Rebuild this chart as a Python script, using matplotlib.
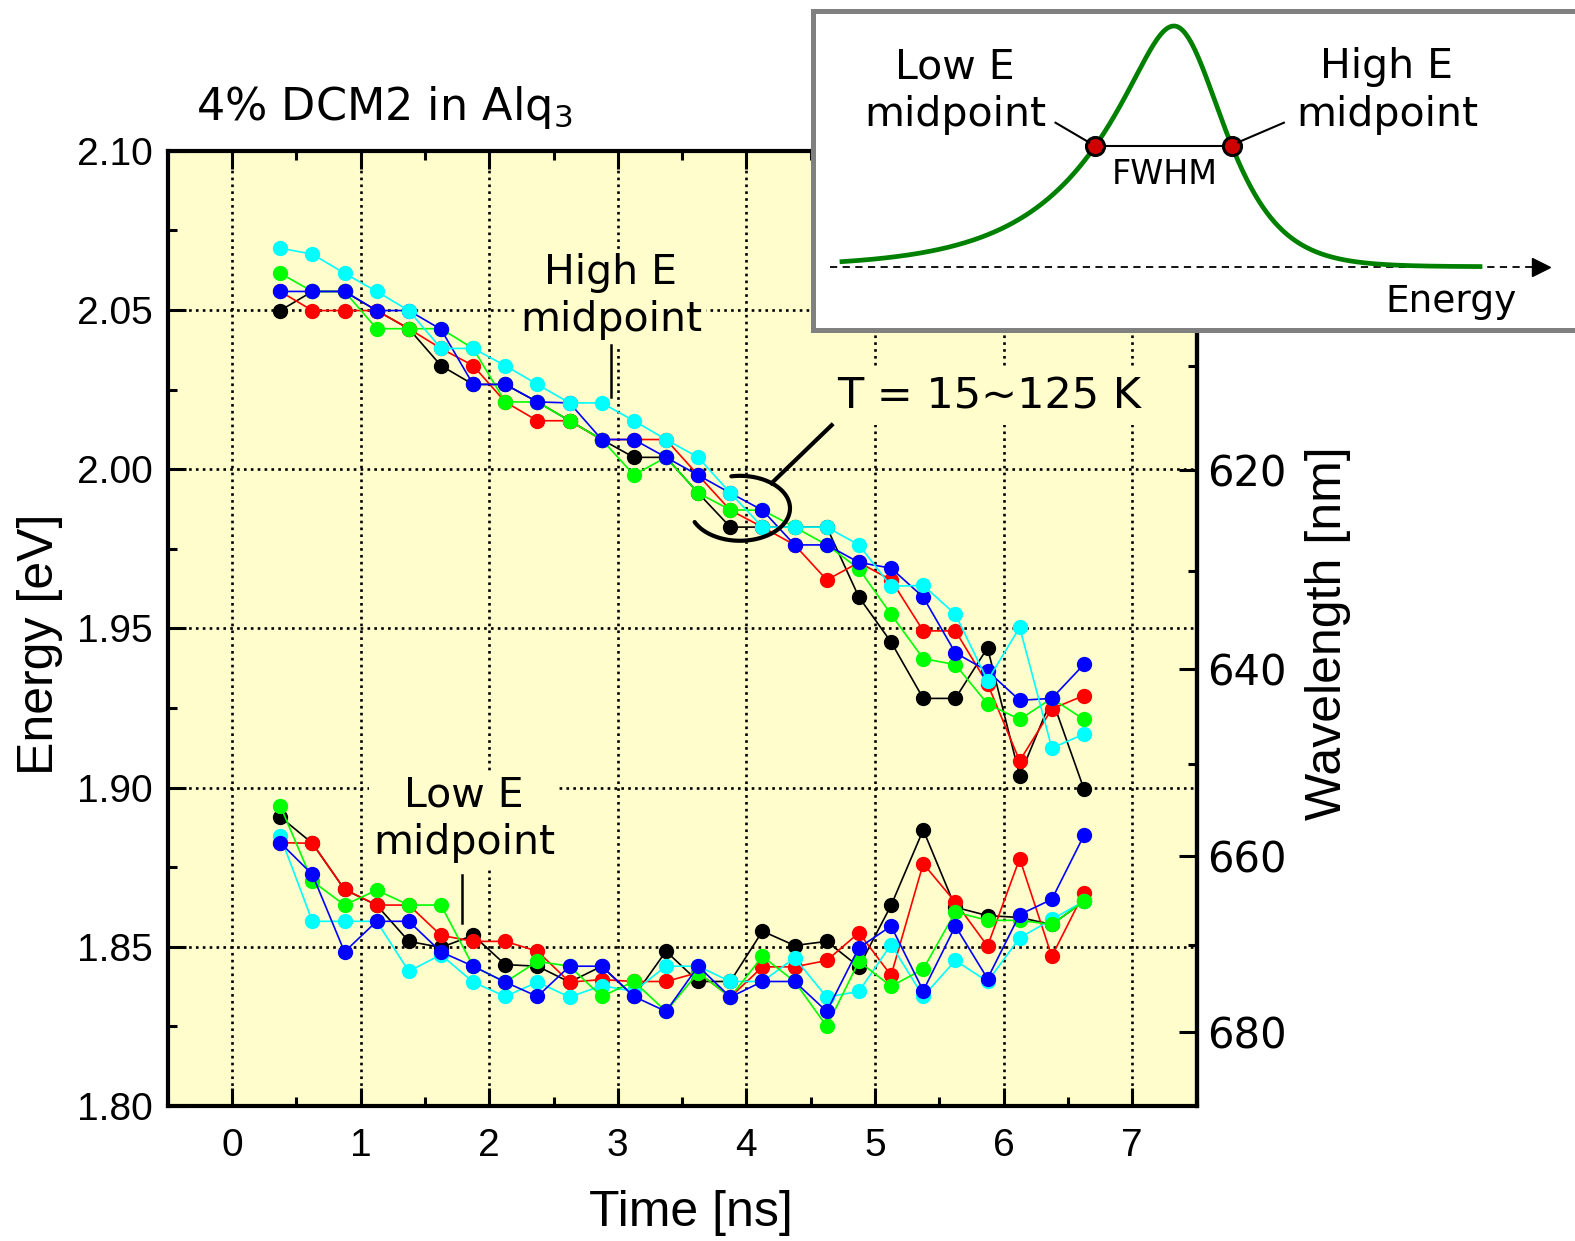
import numpy as np
import matplotlib
matplotlib.use('Agg')
import matplotlib.pyplot as plt
from matplotlib.ticker import MultipleLocator, FixedLocator, FormatStrFormatter

plt.rcParams['font.family'] = ['Liberation Sans', 'DejaVu Sans']
plt.rcParams['mathtext.fontset'] = 'dejavusans'

# time axis of the streak-camera slices [ns]
time_ns = [0.375, 0.625, 0.875, 1.125, 1.375, 1.625, 1.875, 2.125, 2.375,
           2.625, 2.875, 3.125, 3.375, 3.625, 3.875, 4.125, 4.375, 4.625,
           4.875, 5.125, 5.375, 5.625, 5.875, 6.125, 6.375, 6.625]

# high energy half-maximum points [eV]
black_hi = [2.0498, 2.0558, 2.0558, 2.0498, 2.0441, 2.0325, 2.0266, 2.0266, 2.0211,
            2.0152, 2.0093, 2.0037, 2.0037, 1.9925, 1.9818, 1.9818, 1.9818, 1.9818,
            1.9598, 1.9457, 1.9280, 1.9280, 1.9439, 1.9037, 1.9280, 1.8995]
red_hi = [2.0558, 2.0498, 2.0498, 2.0498, 2.0441, 2.0379, 2.0325, 2.0211, 2.0152,
          2.0152, 2.0093, 2.0093, 2.0093, 1.9981, 1.9871, 1.9818, 1.9762, 1.9652,
          1.9707, 1.9652, 1.9492, 1.9492, 1.9326, 1.9084, 1.9247, 1.9289]
green_hi = [2.0615, 2.0558, 2.0558, 2.0441, 2.0441, 2.0441, 2.0379, 2.0211, 2.0211,
            2.0152, 2.0093, 1.9982, 2.0037, 1.9925, 1.9872, 1.9871, 1.9818, 1.9762,
            1.9687, 1.9544, 1.9405, 1.9386, 1.9263, 1.9214, 1.9280, 1.9214]
blue_hi = [2.0558, 2.0558, 2.0558, 2.0498, 2.0498, 2.0439, 2.0266, 2.0266, 2.0211,
           2.0208, 2.0093, 2.0093, 2.0037, 1.9981, 1.9925, 1.9871, 1.9762, 1.9762,
           1.9707, 1.9689, 1.9598, 1.9423, 1.9366, 1.9274, 1.9280, 1.9387]
cyan_hi = [2.0694, 2.0675, 2.0615, 2.0558, 2.0498, 2.0379, 2.0379, 2.0325, 2.0266,
           2.0208, 2.0208, 2.0152, 2.0093, 2.0037, 1.9925, 1.9818, 1.9818, 1.9818,
           1.9762, 1.9632, 1.9635, 1.9544, 1.9336, 1.9503, 1.9124, 1.9168]

# low energy half-maximum points [eV]
black_lo = [1.8908, 1.8825, 1.8680, 1.8631, 1.8517, 1.8498, 1.8536, 1.8444, 1.8439,
            1.8389, 1.8439, 1.8344, 1.8486, 1.8391, 1.8391, 1.8549, 1.8504, 1.8517,
            1.8437, 1.8630, 1.8867, 1.8624, 1.8598, 1.8592, 1.8570, 1.8643]
red_lo = [1.8827, 1.8825, 1.8680, 1.8631, 1.8631, 1.8536, 1.8517, 1.8517, 1.8486,
          1.8389, 1.8397, 1.8391, 1.8391, 1.8419, 1.8342, 1.8437, 1.8437, 1.8457,
          1.8544, 1.8410, 1.8761, 1.8640, 1.8502, 1.8777, 1.8470, 1.8670]
green_lo = [1.8943, 1.8706, 1.8631, 1.8678, 1.8631, 1.8631, 1.8439, 1.8389, 1.8454,
            1.8439, 1.8344, 1.8391, 1.8297, 1.8419, 1.8342, 1.8470, 1.8391, 1.8250,
            1.8454, 1.8376, 1.8430, 1.8609, 1.8583, 1.8583, 1.8570, 1.8643]
blue_lo = [1.8827, 1.8727, 1.8484, 1.8580, 1.8580, 1.8484, 1.8439, 1.8389, 1.8344,
           1.8439, 1.8439, 1.8344, 1.8297, 1.8439, 1.8342, 1.8391, 1.8391, 1.8297,
           1.8497, 1.8565, 1.8362, 1.8565, 1.8400, 1.8601, 1.8649, 1.8850]
cyan_lo = [1.8848, 1.8580, 1.8580, 1.8580, 1.8423, 1.8475, 1.8389, 1.8344, 1.8389,
           1.8342, 1.8378, 1.8360, 1.8439, 1.8439, 1.8391, 1.8391, 1.8465, 1.8342,
           1.8360, 1.8507, 1.8344, 1.8457, 1.8391, 1.8528, 1.8586, 1.8643]

wl_major = [620, 640, 660, 680]
wl_minor = [610, 630, 650, 670]

BG = '#FFFDCC'
TXT = 'DejaVu Sans'
W, H = 1575, 1241

fig = plt.figure(figsize=(W / 100, H / 100), dpi=100, facecolor='white')
ax = fig.add_axes([167.7 / W, 1 - 1106 / H, (1196.5 - 167.7) / W, (1106 - 150.7) / H])
ax.set_facecolor(BG)
ax.set_xlim(-0.5, 7.5)
ax.set_ylim(1.80, 2.10)

hi_series = [('#000000', black_hi), ('#FF0000', red_hi), ('#00FF00', green_hi),
             ('#0000FF', blue_hi), ('#00FFFF', cyan_hi)]
lo_series = [('#000000', black_lo), ('#FF0000', red_lo), ('#00FFFF', cyan_lo),
             ('#00FF00', green_lo), ('#0000FF', blue_lo)]
for c, e in hi_series + lo_series:
    ax.plot(time_ns, e, '-o', color=c, lw=1.2, ms=10, mec=c, zorder=3)

# axes styling
ax.xaxis.set_major_locator(MultipleLocator(1))
ax.xaxis.set_minor_locator(MultipleLocator(0.5))
ax.yaxis.set_major_locator(MultipleLocator(0.05))
ax.yaxis.set_minor_locator(MultipleLocator(0.025))
ax.yaxis.set_major_formatter(FormatStrFormatter('%.2f'))
ax.tick_params(which='both', direction='in', top=True, right=False, width=2.2)
ax.tick_params(which='major', length=13, labelsize=28)
ax.tick_params(which='minor', length=6.5)
ax.tick_params(axis='y', pad=11)
ax.tick_params(axis='x', pad=16)
for s in ax.spines.values():
    s.set_linewidth(3)
ax.set_axisbelow(True)
ax.grid(True, which='major', color='k', lw=1.9, ls=(0, (1, 1.6)))

sec = ax.secondary_yaxis('right', functions=(lambda e: 1239.84 / np.asarray(e, float),
                                              lambda w: 1239.84 / np.asarray(w, float)))
sec.set_yticks(wl_major)
sec.yaxis.set_minor_locator(FixedLocator(wl_minor))
sec.tick_params(which='both', direction='in', width=2.2, labelsize=30,
                labelfontfamily=TXT, pad=8)
sec.tick_params(which='major', length=13)
sec.tick_params(which='minor', length=6.5)
sec.spines['right'].set_linewidth(3)

# annotations
box = dict(fc=BG, ec='none', pad=3)
ax.text(2.947, 2.0542, 'High E\nmidpoint', ha='center', va='center', fontsize=29.5,
        family=TXT, linespacing=1.25, bbox=box, zorder=2)
ax.plot([2.947, 2.947], [2.039, 2.0226], color='k', lw=1.8, zorder=2)
ax.text(1.804, 1.8901, 'Low E\nmidpoint', ha='center', va='center', fontsize=29.5,
        family=TXT, linespacing=1.25, bbox=box, zorder=2)
ax.plot([1.79, 1.79], [1.8725, 1.8574], color='k', lw=1.8, zorder=2)
ax.text(4.705, 2.0191, 'T = 15~125 K', ha='left', va='baseline', fontsize=31,
        family=TXT, bbox=dict(fc=BG, ec='none', pad=6), zorder=2)
ax.plot([4.196, 4.663], [1.9956, 2.0138], color='k', lw=3, zorder=4)
# open ellipse around the high-E points near 4 ns
ang = np.radians(np.linspace(100, -155, 200))
ax.plot(3.95 + 0.389 * np.cos(ang), 1.9877 + 0.0102 * np.sin(ang), color='k',
        lw=3, zorder=4, solid_capstyle='round')

fig.text(196 / W, 1 - 120 / H, '4% DCM2 in Alq$_3$', fontsize=32, family=TXT,
         ha='left', va='baseline')
fig.text(40 / W, 1 - 644 / H, 'Energy [eV]', fontsize=36, rotation=90,
         ha='center', va='center')
fig.text(691 / W, 1 - 1213 / H, 'Time [ns]', fontsize=36, ha='center', va='center')
fig.text(1328 / W, 1 - 633 / H, 'Wavelength [nm]', fontsize=36, rotation=90,
         ha='center', va='center')

# inset: schematic emission line shape (pixel-like coordinates)
ins = fig.add_axes([813.5 / W, 1 - 330 / H, (1610 - 813.5) / W, (330 - 10.7) / H],
                   zorder=5)
ins.set_facecolor('white')
ins.set_xlim(813.5, 1610)
ins.set_ylim(330, 10.7)
ins.set_xticks([])
ins.set_yticks([])
for s in ins.spines.values():
    s.set_linewidth(3.6)
    s.set_color('#808080')

base, amp, x0 = 266.7, 240.7, 1174
hw_l, w_l = 79, 30     # low-energy side: half width, peak rounding
hw_r, w_r = 58, 60     # high-energy side
k_l = np.log(2) / (np.sqrt(1 + (hw_l / w_l) ** 2) - 1)
k_r = np.log(2) / (np.sqrt(1 + (hw_r / w_r) ** 2) - 1)
xs = np.linspace(842, 1480, 800)
d = xs - x0
shape = np.where(d < 0, np.exp(-k_l * (np.sqrt(1 + (d / w_l) ** 2) - 1)),
                 np.exp(-k_r * (np.sqrt(1 + (d / w_r) ** 2) - 1)))
ins.plot([830, 1538], [base, base], color='k', lw=1.3, ls=(0, (4, 3)))
ins.plot([1541], [base], marker='>', ms=13, color='k', mec='k')
ins.plot(xs, base - amp * shape, color='#008000', lw=3.4)

x_lo, x_hi = x0 - hw_l, x0 + hw_r
y_half = base - amp / 2
ins.plot([x_lo, x_hi], [y_half, y_half], color='k', lw=1.5)
ins.plot([x_lo, x_hi], [y_half, y_half], 'o', ms=13, mfc='#D00000', mec='k', mew=2.2)
ins.plot([1055.5, x_lo - 6], [122.7, y_half - 4], color='k', lw=1.5)
ins.plot([1283.9, x_hi + 6], [122.7, y_half - 4], color='k', lw=1.5)
ins.text(955, 91, 'Low E\nmidpoint', ha='center', va='center', fontsize=29.5,
         family=TXT, linespacing=1.25)
ins.text(1387, 91, 'High E\nmidpoint', ha='center', va='center', fontsize=29.5,
         family=TXT, linespacing=1.25)
ins.text(1164.5, 174, 'FWHM', ha='center', va='center', fontsize=24, family=TXT)
ins.text(1451, 311.7, 'Energy', ha='center', va='baseline', fontsize=27, family=TXT)

fig.savefig('out.png', dpi=100, facecolor='white')
